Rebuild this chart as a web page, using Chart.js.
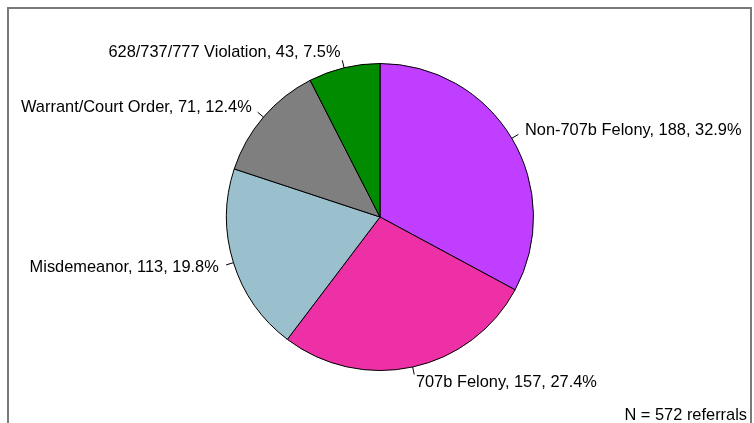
<!DOCTYPE html>
<html>
<head>
<meta charset="utf-8">
<script src="https://cdn.jsdelivr.net/npm/chart.js@4.4.1/dist/chart.umd.min.js"></script>
<style>
    html, body { margin: 0; padding: 0; background: #fff; }
    #wrap { position: relative; width: 754px; height: 423px; overflow: hidden; }
    #frame {
        position: absolute; left: 7px; top: 7px; width: 745px; height: 430px;
        border: 2px solid #7a7a7a; box-sizing: border-box;
    }
    canvas { position: absolute; left: 0; top: 0; }
</style>
</head>
<body>
<div id="wrap">
    <div id="frame"></div>
    <canvas id="pie" width="754" height="423"></canvas>
</div>
<script>
// data
const categories = ['Non-707b Felony', '707b Felony', 'Misdemeanor', 'Warrant/Court Order', '628/737/777 Violation'];
const counts = [188, 157, 113, 71, 43];
const percents = ['32.9%', '27.4%', '19.8%', '12.4%', '7.5%'];
const sliceColors = ['#bf3eff', '#ee30a7', '#9ac0cd', '#7f7f7f', '#008b00'];
const footnote = 'N = 572 referrals';

const labelFont = '16.4px "Liberation Sans", Arial, sans-serif';

// R-style outside labels with short tick lines
const pieLabels = {
    id: 'pieLabels',
    afterDatasetsDraw(chart) {
        const ctx = chart.ctx;
        const arcs = chart.getDatasetMeta(0).data;
        ctx.save();
        ctx.font = labelFont;
        ctx.fillStyle = '#000';
        ctx.strokeStyle = '#000';
        ctx.lineWidth = 1;
        ctx.textBaseline = 'middle';
        arcs.forEach((arc, i) => {
            const mid = (arc.startAngle + arc.endAngle) / 2;
            const r = arc.outerRadius;
            const cx = Math.cos(mid), cy = Math.sin(mid);
            ctx.beginPath();
            ctx.moveTo(arc.x + r * cx, arc.y + r * cy);
            ctx.lineTo(arc.x + 1.05 * r * cx, arc.y + 1.05 * r * cy);
            ctx.stroke();
            ctx.textAlign = cx >= 0 ? 'left' : 'right';
            const text = categories[i] + ', ' + counts[i] + ', ' + percents[i];
            ctx.fillText(text, arc.x + 1.1 * r * cx, arc.y + 1.1 * r * cy);
        });
        ctx.textAlign = 'right';
        ctx.fillText(footnote, 747, 415);
        ctx.restore();
    }
};

new Chart(document.getElementById('pie').getContext('2d'), {
    type: 'pie',
    data: {
        labels: categories,
        datasets: [{
            data: counts,
            backgroundColor: sliceColors,
            borderColor: '#000',
            borderWidth: 1
        }]
    },
    options: {
        responsive: false,
        animation: false,
        layout: { padding: { left: 226, right: 220, top: 62, bottom: 51 } },
        plugins: {
            legend: { display: false },
            tooltip: { enabled: false }
        }
    },
    plugins: [pieLabels]
});
</script>
</body>
</html>
